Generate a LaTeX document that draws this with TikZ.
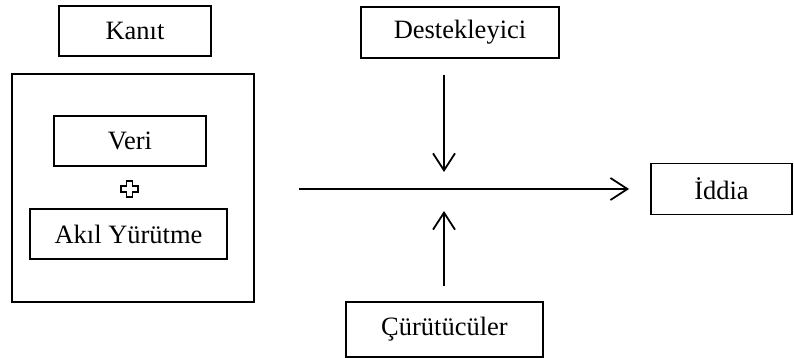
\documentclass[tikz,border=0pt]{standalone}
\usepackage{fontspec}
\setmainfont{Liberation Serif}
\usetikzlibrary{arrows.meta}
\begin{document}
\begin{tikzpicture}[x=1pt,y=-1pt,line width=1.8pt,font=\fontsize{26.5}{30}\selectfont,
	kutu/.style={draw,rectangle,inner sep=0pt},
	ok/.style={-{Straight Barb[length=17pt,width=22pt,line width=1.8pt]}}]
	\useasboundingbox (0,0) rectangle (794,358);
	%Kanit tarafi
	\node [kutu,minimum width=152pt,minimum height=50pt] (kanit) at (135,31) {Kanıt};
	\node [kutu,minimum width=242pt,minimum height=228pt] (kanitkutu) at (133,188) {};
	\node [kutu,minimum width=152pt,minimum height=50pt] (veri) at (130,141) {Veri};
	\node [kutu,minimum width=197pt,minimum height=50pt] (akil) at (128.5,234) {Akıl Yürütme};
	%arti isareti
	\coordinate (arti) at (129.5,189);
	\draw [line width=1.3pt] (arti) ++(-3,-8) -- ++(6,0) -- ++(0,5) -- ++(5.5,0) -- ++(0,6)
		-- ++(-5.5,0) -- ++(0,5) -- ++(-6,0) -- ++(0,-5) -- ++(-5.5,0) -- ++(0,-6) -- ++(5.5,0) -- cycle;
	%Iddia tarafi
	\node [kutu,minimum width=198pt,minimum height=51pt] (destek) at (460,32.5) {Destekleyici};
	\node [kutu,minimum width=141pt,minimum height=51pt] (iddia) at (721.5,189) {İddia};
	\node [kutu,minimum width=197pt,minimum height=55pt] (curutucu) at (444.5,329.5) {Çürütücüler};
	%Oklar
	\coordinate (giris) at (299,189);
	\coordinate (kesisim) at (444,189);
	\draw [ok,shorten >=21pt] (giris) -- (iddia.west);
	\draw [ok,shorten <=16pt,shorten >=17pt] (destek.south -| kesisim) -- (kesisim);
	\draw [ok,shorten <=15pt,shorten >=22pt] (curutucu.north -| kesisim) -- (kesisim);
\end{tikzpicture}
\end{document}
